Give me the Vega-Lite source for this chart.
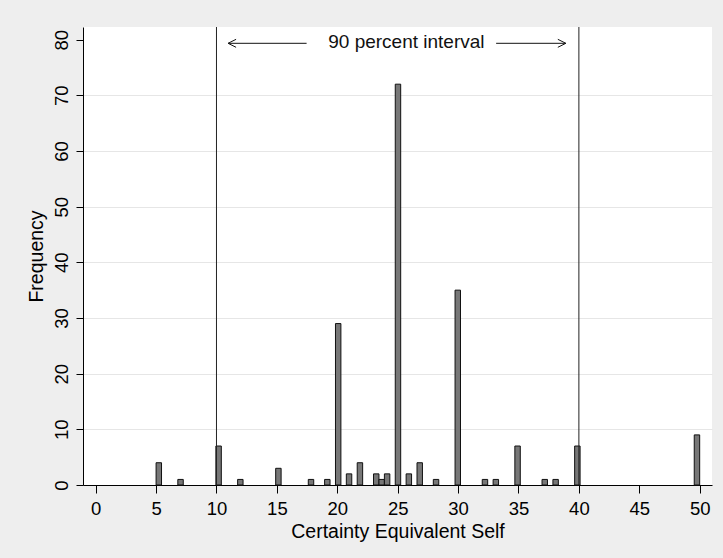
{
  "$schema": "https://vega.github.io/schema/vega-lite/v6.json",
  "width": 629,
  "height": 458,
  "autosize": {"type": "none"},
  "padding": {"left": 83, "top": 27, "right": 11, "bottom": 73},
  "background": "#eeeeee",
  "view": {"fill": "white", "stroke": null},
  "config": {"font": "Liberation Sans"},
  "datasets": {
    "bars": [
      {"value": 5, "count": 4},
      {"value": 7, "count": 1},
      {"value": 10, "count": 7},
      {"value": 12, "count": 1},
      {"value": 15, "count": 3},
      {"value": 18, "count": 1},
      {"value": 19, "count": 1},
      {"value": 20, "count": 29},
      {"value": 21, "count": 2},
      {"value": 22, "count": 4},
      {"value": 23, "count": 2},
      {"value": 23.5, "count": 1},
      {"value": 24, "count": 2},
      {"value": 25, "count": 72},
      {"value": 26, "count": 2},
      {"value": 27, "count": 4},
      {"value": 28, "count": 1},
      {"value": 30, "count": 35},
      {"value": 32, "count": 1},
      {"value": 33, "count": 1},
      {"value": 35, "count": 7},
      {"value": 37, "count": 1},
      {"value": 38, "count": 1},
      {"value": 40, "count": 7},
      {"value": 50, "count": 9}
    ],
    "lines": [{"at": 10}, {"at": 40}],
    "annotation": [{"x": 25.72, "y": 78.44, "label": "90 percent interval"}],
    "arrows": [
      {"tail": 17.46, "tip": 10.96, "y": 79.34, "dir": "left"},
      {"tail": 33.15, "tip": 38.92, "y": 79.34, "dir": "right"}
    ]
  },
  "layer": [
    {
      "data": {"name": "bars"},
      "transform": [
        {"bin": {"extent": [5, 50], "step": 0.45, "nice": false}, "field": "value", "as": ["bin_start", "bin_end"]}
      ],
      "mark": {"type": "bar", "fill": "#777777", "stroke": "#111111", "strokeWidth": 1},
      "encoding": {
        "x": {
          "field": "bin_start",
          "type": "quantitative",
          "scale": {"domain": [-1.05, 51.02], "nice": false, "zero": false},
          "axis": {
            "title": "Certainty Equivalent Self",
            "values": [0, 5, 10, 15, 20, 25, 30, 35, 40, 45, 50],
            "grid": false,
            "domainColor": "#000000",
            "tickColor": "#000000",
            "tickSize": 8,
            "labelFontSize": 18.5,
            "labelPadding": 6.5,
            "labelColor": "#000000",
            "labelFlush": false,
            "labelOverlap": false,
            "titleFontSize": 19.5,
            "titleFontWeight": "normal",
            "titleColor": "#000000",
            "titlePadding": 4
          }
        },
        "x2": {"field": "bin_end"},
        "y": {
          "field": "count",
          "type": "quantitative",
          "scale": {"domain": [0, 82.27], "nice": false},
          "axis": {
            "title": "Frequency",
            "values": [0, 10, 20, 30, 40, 50, 60, 70, 80],
            "grid": true,
            "gridColor": {"condition": {"test": "datum.value == 0 || datum.value == 80", "value": "transparent"}, "value": "#e6e6e6"},
            "domainColor": "#000000",
            "tickColor": "#000000",
            "tickSize": 7,
            "labelAngle": 270,
            "labelAlign": "center",
            "labelBaseline": "bottom",
            "labelFontSize": 18.5,
            "labelPadding": 5,
            "labelColor": "#000000",
            "labelFlush": false,
            "labelOverlap": false,
            "titleFontSize": 19.5,
            "titleFontWeight": "normal",
            "titleColor": "#000000",
            "titlePadding": 6
          }
        },
        "y2": {"datum": 0}
      }
    },
    {
      "data": {"name": "lines"},
      "mark": {"type": "rule", "color": "#222222", "strokeWidth": 1},
      "encoding": {
        "x": {"field": "at", "type": "quantitative"}
      }
    },
    {
      "data": {"name": "annotation"},
      "mark": {"type": "text", "fontSize": 19, "align": "center", "baseline": "alphabetic", "color": "#111111"},
      "encoding": {
        "x": {"field": "x", "type": "quantitative"},
        "y": {"field": "y", "type": "quantitative"},
        "text": {"field": "label"}
      }
    },
    {
      "data": {"name": "arrows"},
      "mark": {"type": "rule", "color": "#111111", "strokeWidth": 1},
      "encoding": {
        "x": {"field": "tail", "type": "quantitative"},
        "x2": {"field": "tip"},
        "y": {"field": "y", "type": "quantitative"}
      }
    },
    {
      "data": {"name": "arrows"},
      "transform": [{"filter": "datum.dir == 'left'"}],
      "mark": {"type": "point", "shape": "M2,-1L0,0L2,1", "filled": false, "stroke": "#111111", "strokeWidth": 1, "size": 64, "opacity": 1},
      "encoding": {
        "x": {"field": "tip", "type": "quantitative"},
        "y": {"field": "y", "type": "quantitative"}
      }
    },
    {
      "data": {"name": "arrows"},
      "transform": [{"filter": "datum.dir == 'right'"}],
      "mark": {"type": "point", "shape": "M-2,-1L0,0L-2,1", "filled": false, "stroke": "#111111", "strokeWidth": 1, "size": 64, "opacity": 1},
      "encoding": {
        "x": {"field": "tip", "type": "quantitative"},
        "y": {"field": "y", "type": "quantitative"}
      }
    }
  ]
}
